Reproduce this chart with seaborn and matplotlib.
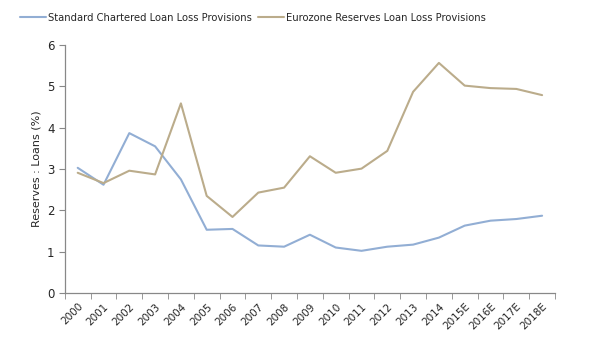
import pandas as pd
import seaborn as sns
import matplotlib.pyplot as plt
from matplotlib.ticker import FixedLocator

years = ["2000", "2001", "2002", "2003", "2004", "2005", "2006", "2007", "2008", "2009",
         "2010", "2011", "2012", "2013", "2014", "2015E", "2016E", "2017E", "2018E"]
stan_chart = [3.03, 2.62, 3.87, 3.55, 2.75, 1.53, 1.55, 1.15, 1.12, 1.41,
              1.10, 1.02, 1.12, 1.17, 1.34, 1.63, 1.75, 1.79, 1.87]
eurozone = [2.91, 2.66, 2.96, 2.87, 4.59, 2.35, 1.84, 2.43, 2.55, 3.31,
            2.91, 3.01, 3.44, 4.87, 5.57, 5.02, 4.96, 4.94, 4.79]

s1 = "Standard Chartered Loan Loss Provisions"
s2 = "Eurozone Reserves Loan Loss Provisions"
df = pd.concat([
    pd.DataFrame({"year": years, "value": stan_chart, "series": s1}),
    pd.DataFrame({"year": years, "value": eurozone, "series": s2}),
])

sns.set_style("white")
plt.rcParams["font.family"] = ["DejaVu Sans"]

fig = plt.figure(figsize=(6, 3.5), dpi=100)
ax = fig.add_axes([0.108, 0.163, 0.817, 0.708])
sns.lineplot(data=df, x="year", y="value", hue="series", sort=False,
             palette={s1: "#92AED4", s2: "#BBAC8B"}, linewidth=1.5, ax=ax)

ax.set_xlim(-0.5, len(years) - 0.5)
ax.set_ylim(0, 6)
ax.set_yticks(range(0, 7))
ax.set_xticks(range(len(years)))
ax.set_xticklabels(years, rotation=45, ha="right", rotation_mode="anchor", fontsize=7.5)
ax.xaxis.set_minor_locator(FixedLocator([i - 0.5 for i in range(len(years) + 1)]))
ax.tick_params(axis="x", which="major", length=0, pad=6)
ax.tick_params(axis="x", which="minor", length=4, color="#888888", direction="out", bottom=True)
ax.tick_params(axis="y", length=4, color="#888888", direction="out", left=True, labelsize=8.5)
ax.set_xlabel("")
ax.set_ylabel("Reserves : Loans (%)", fontsize=8)

for side in ["top", "right"]:
    ax.spines[side].set_visible(False)
for side in ["left", "bottom"]:
    ax.spines[side].set_color("#888888")
    ax.spines[side].set_linewidth(0.9)

ax.legend(loc="center", bbox_to_anchor=(0.384, 1.11), ncol=2, frameon=False,
          fontsize=7.2, handlelength=2.6, columnspacing=0.6, handletextpad=0.2)

fig.savefig("out.png", dpi=100)
